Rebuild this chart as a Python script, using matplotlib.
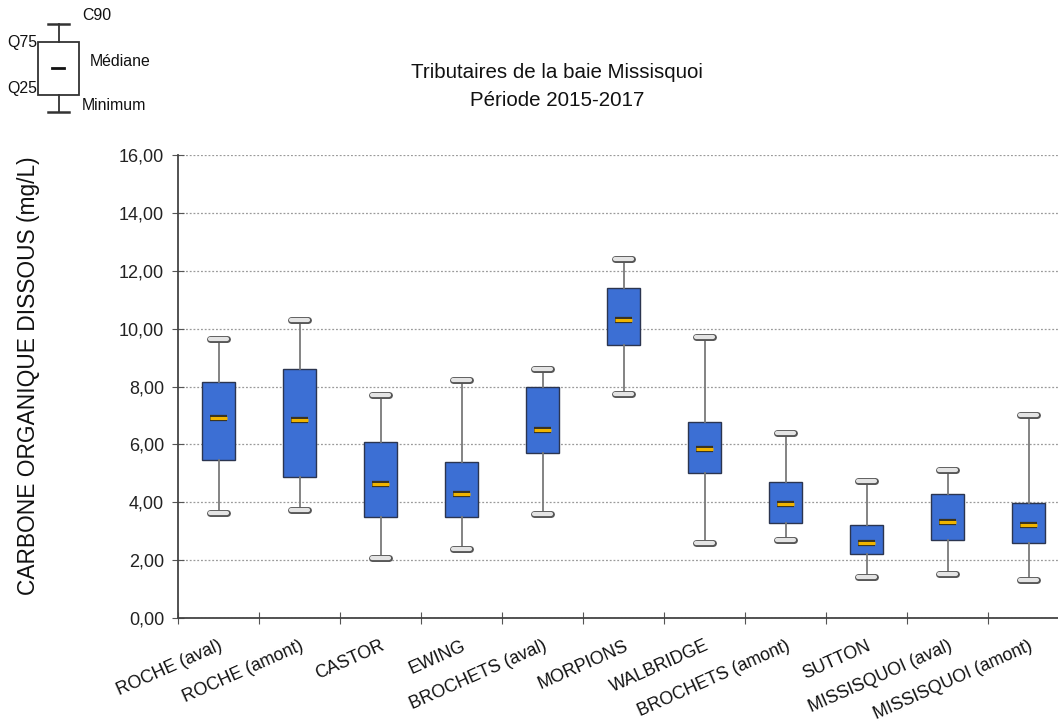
import matplotlib
matplotlib.use("Agg")
import matplotlib.pyplot as plt
import matplotlib.patheffects as pe
import numpy as np

plt.rcParams['font.family'] = ['Liberation Sans', 'DejaVu Sans']

categories = ["ROCHE (aval)", "ROCHE (amont)", "CASTOR", "EWING", "BROCHETS (aval)",
              "MORPIONS", "WALBRIDGE", "BROCHETS (amont)", "SUTTON",
              "MISSISQUOI (aval)", "MISSISQUOI (amont)"]
minimum = [3.63, 3.73, 2.09, 2.40, 3.59, 7.73, 2.60, 2.69, 1.41, 1.51, 1.31]
q25     = [5.46, 4.87, 3.50, 3.50, 5.69, 9.42, 5.00, 3.29, 2.20, 2.69, 2.59]
median  = [6.91, 6.84, 4.62, 4.27, 6.51, 10.30, 5.84, 3.93, 2.60, 3.31, 3.21]
q75     = [8.15, 8.60, 6.09, 5.38, 7.98, 11.41, 6.78, 4.71, 3.20, 4.27, 3.97]
c90     = [9.64, 10.31, 7.72, 8.21, 8.62, 12.41, 9.72, 6.41, 4.73, 5.13, 7.01]
yticks = [0, 2, 4, 6, 8, 10, 12, 14, 16]

W, H = 1058, 723
fig = plt.figure(figsize=(W / 100, H / 100), dpi=100)
ax = fig.add_axes([178 / W, 105 / H, 891 / W, 463 / H])

pos = np.arange(len(categories)) + 0.5
stats = [dict(whislo=mn, q1=a, med=m, q3=b, whishi=c, fliers=[])
         for mn, a, m, b, c in zip(minimum, q25, median, q75, c90)]

cap_fx = [pe.Stroke(linewidth=5, foreground='#555555'), pe.Normal()]
ax.bxp(stats, positions=pos, widths=0.41, capwidths=0.21, patch_artist=True,
       showfliers=False,
       boxprops=dict(facecolor='#3c6fd4', edgecolor='#2b3550', linewidth=1.0),
       whiskerprops=dict(color='#7a7a7a', linewidth=1.3),
       capprops=dict(color='#e4e4e4', linewidth=3, solid_capstyle='round',
                     path_effects=cap_fx),
       medianprops=dict(visible=False), zorder=3)

med_fx = [pe.Stroke(linewidth=4.5, foreground='#3a3320'), pe.Normal()]
ax.hlines(median, pos - 0.1, pos + 0.1, colors='#f0b400', linewidth=2.2,
          path_effects=med_fx, zorder=5)

ax.set_xlim(0, len(categories))
ax.set_ylim(0, 16)
ax.set_yticks(yticks)
ax.set_yticklabels([f"{v:.2f}".replace('.', ',') for v in yticks], fontsize=13,
                   color='#222222')
ax.yaxis.grid(True, linestyle=(0, (1.5, 1.5)), color='#9a9a9a', linewidth=0.9)
ax.set_axisbelow(True)

ax.set_xticks(np.arange(len(categories) + 1))
ax.set_xticklabels([])
ax.set_xticks(pos, minor=True)
ax.set_xticklabels(categories, minor=True, rotation=24, ha='right',
                   rotation_mode='anchor', fontsize=12.8, color='#111111')
ax.tick_params(axis='x', which='minor', length=0, pad=14)
ax.tick_params(axis='x', which='major', direction='inout', length=8, color='#555555')
ax.tick_params(axis='y', direction='inout', length=8, color='#555555', pad=6)

for s in ['top', 'right']:
    ax.spines[s].set_visible(False)
for s in ['left', 'bottom']:
    ax.spines[s].set_color('#444444')
    ax.spines[s].set_linewidth(1.3)

ax.set_ylabel("CARBONE ORGANIQUE DISSOUS (mg/L)", fontsize=16.4, color='#111111')
ax.yaxis.set_label_coords((40 - 178) / 891, (618 - 376) / 463)

fig.text(557 / W, 1 - 73 / H, "Tributaires de la baie Missisquoi", ha='center',
         va='center', fontsize=14.8, color='#111111')
fig.text(557 / W, 1 - 100 / H, "Période 2015-2017", ha='center', va='center',
         fontsize=14.8, color='#111111')

# schematic key (top-left)
k = fig.add_axes([0, 0, 1, 1], zorder=10)
k.set_xlim(0, W)
k.set_ylim(H, 0)
k.axis('off')
k.patch.set_alpha(0)
kc = '#333333'
k.add_patch(plt.Rectangle((38, 42), 41, 53, facecolor='white', edgecolor=kc, lw=1.3))
k.plot([58.5, 58.5], [24, 42], color=kc, lw=1.3)
k.plot([58.5, 58.5], [95, 112], color=kc, lw=1.3)
k.plot([48, 69], [24, 24], color=kc, lw=1.8)
k.plot([48, 69], [112, 112], color=kc, lw=1.8)
k.plot([52, 64], [68, 68], color='#111111', lw=2)
kfs = 11.4
k.text(82, 16, "C90", fontsize=kfs, va='center', color='#111111')
k.text(7, 42, "Q75", fontsize=kfs, va='center', color='#111111')
k.text(90, 61, "Médiane", fontsize=kfs, va='center', color='#111111')
k.text(7, 89, "Q25", fontsize=kfs, va='center', color='#111111')
k.text(82, 106, "Minimum", fontsize=kfs, va='center', color='#111111')

fig.savefig("out.png", dpi=100)
